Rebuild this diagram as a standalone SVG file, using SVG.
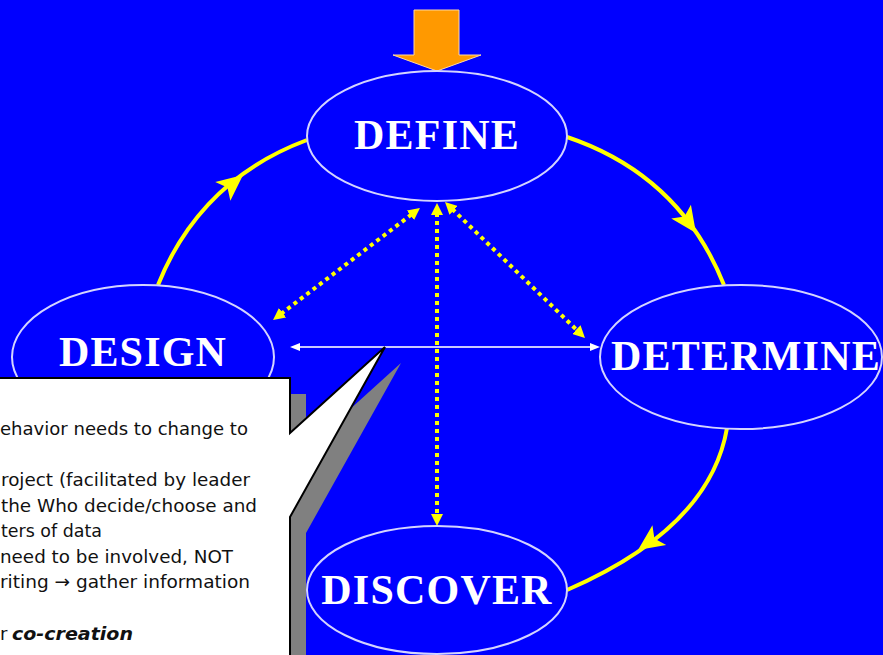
<svg xmlns="http://www.w3.org/2000/svg" width="883" height="655" viewBox="0 0 883 655">
  <defs>
    <style>
      .node ellipse { fill: #0000ff; stroke: #d4d4ff; stroke-width: 2; }
      .node text { font-family: "Liberation Serif", "Times New Roman", serif; font-weight: bold; font-size: 42px; letter-spacing: 1.2px; fill: #ffffff; text-anchor: middle; }
      .arc { fill: none; stroke: #ffff00; stroke-width: 4; }
      .dotted { fill: none; stroke: #ffff00; stroke-width: 4; stroke-dasharray: 4 4; marker-start: url(#dotHead); marker-end: url(#dotHead); }
      .thin { fill: none; stroke: #c8c8ff; stroke-width: 2; marker-start: url(#thinHead); marker-end: url(#thinHead); }
      .note { font-family: "DejaVu Sans", Verdana, sans-serif; font-size: 18px; fill: #111111; }
      .note-em { font-weight: bold; font-style: italic; }
    </style>
    <!-- arrowhead placed along the cycle arcs -->
    <path id="cycleHead" d="M0,0 L-26,-12 L-20,0 L-26,12 Z" fill="#ffff00"/>
    <marker id="dotHead" viewBox="0 0 12 12" refX="2" refY="6" markerWidth="12" markerHeight="12" markerUnits="userSpaceOnUse" orient="auto-start-reverse">
      <path d="M0,0 L12,6 L0,12 Z" fill="#ffff00"/>
    </marker>
    <marker id="thinHead" viewBox="0 0 10 8" refX="1" refY="4" markerWidth="10" markerHeight="8" markerUnits="userSpaceOnUse" orient="auto-start-reverse">
      <path d="M0,0 L10,4 L0,8 Z" fill="#ffffff"/>
    </marker>
  </defs>

  <!-- background -->
  <rect x="0" y="0" width="883" height="655" fill="#0000ff"/>

  <!-- connectors -->
  <g id="connectors">
    <!-- cycle: design -> define -> determine -> discover -->
    <path class="arc" d="M158,285 Q200,180 307,140"/>
    <path class="arc" d="M567,137 Q680,175 724,285"/>
    <path class="arc" d="M727,428 Q710,528 567,590"/>
    <use href="#cycleHead" transform="translate(243,175) rotate(-39)"/>
    <use href="#cycleHead" transform="translate(696,233) rotate(55)"/>
    <use href="#cycleHead" transform="translate(638,550) rotate(145)"/>

    <!-- two-way dotted links from define -->
    <path class="dotted" d="M281,313.9 L412,214.1"/>
    <path class="dotted" d="M437,213 L437,516"/>
    <path class="dotted" d="M452.2,209 L577.8,331"/>

    <!-- design <-> determine -->
    <path class="thin" d="M299,347 L591,347"/>
  </g>

  <!-- entry arrow into define -->
  <g id="entry-arrow">
    <polygon points="414,10 459,10 459,55 481,55 437,71 393,55 414,55" fill="#ff9900" stroke="#ffd9a0" stroke-width="1"/>
  </g>

  <g id="define" class="node">
    <ellipse cx="437" cy="136" rx="130" ry="65"/>
    <text x="437" y="149">DEFINE</text>
  </g>

  <g id="design" class="node">
    <ellipse cx="143" cy="357" rx="131" ry="72"/>
    <text x="143" y="366">DESIGN</text>
  </g>

  <g id="determine" class="node">
    <ellipse cx="741" cy="357" rx="141" ry="72"/>
    <text x="746" y="370">DETERMINE</text>
  </g>

  <g id="discover" class="node">
    <ellipse cx="437" cy="590" rx="130" ry="64"/>
    <text x="437" y="604">DISCOVER</text>
  </g>

  <!-- callout note -->
  <g id="callout">
    <path d="M-20,378 H290 V433 L385,347 L290,517 V690 H-20 Z" transform="translate(16,16)" fill="#808080"/>
    <path d="M-20,378 H290 V433 L385,347 L290,517 V690 H-20 Z" fill="#ffffff" stroke="#000000" stroke-width="2" stroke-linejoin="miter"/>
    <text class="note" x="0" y="435" textLength="248" lengthAdjust="spacingAndGlyphs">ehavior needs to change to</text>
    <text class="note" x="1" y="486" textLength="249" lengthAdjust="spacingAndGlyphs">roject (facilitated by leader</text>
    <text class="note" x="1" y="512" textLength="256" lengthAdjust="spacingAndGlyphs">the Who decide/choose and</text>
    <text class="note" x="1" y="537" textLength="101" lengthAdjust="spacingAndGlyphs">ters of data</text>
    <text class="note" x="0" y="563" textLength="233" lengthAdjust="spacingAndGlyphs">need to be involved, NOT</text>
    <text class="note" x="0" y="588" textLength="250" lengthAdjust="spacingAndGlyphs">riting → gather information</text>
    <text class="note" x="0" y="640">r</text>
    <text class="note note-em" x="12" y="640" textLength="121" lengthAdjust="spacingAndGlyphs">co-creation</text>
  </g>
</svg>
